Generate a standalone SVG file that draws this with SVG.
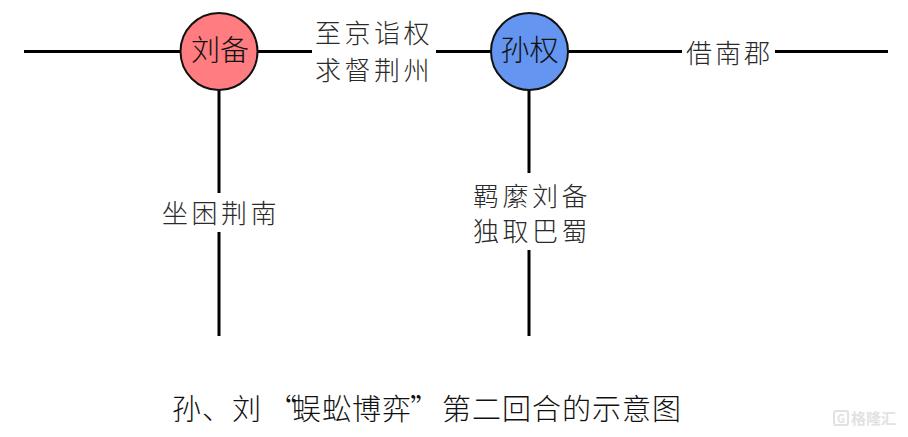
<svg xmlns="http://www.w3.org/2000/svg" width="908" height="437" viewBox="0 0 908 437">
  <style>
    .ln { stroke: #000; stroke-width: 3; fill: none; }
    .node { stroke: #111; stroke-width: 2; }
    .lbl { font-family: "Noto Sans CJK SC", "Noto Sans", sans-serif; font-size: 26px; font-weight: 300; fill: #2a2a2a; letter-spacing: 3.5px; }
    .nlbl { font-family: "Noto Sans CJK SC", "Noto Sans", sans-serif; font-size: 29px; font-weight: 300; fill: #111; text-anchor: middle; }
    .cap { font-family: "Noto Sans CJK SC", "Noto Sans", serif; font-size: 29px; font-weight: 300; fill: #111; }
    .wm { font-family: "Noto Sans CJK SC", sans-serif; font-size: 15px; font-weight: 700; fill: #e2e2e2; }
  </style>
  <rect width="908" height="437" fill="#fff"/>
  <g id="connectors">
    <path class="ln" d="M24 51.5 H312"/>
    <path class="ln" d="M436 51.5 H682"/>
    <path class="ln" d="M775 51.5 H888"/>
    <path class="ln" d="M219 90 V193"/>
    <path class="ln" d="M219 232 V336"/>
    <path class="ln" d="M529 90 V173"/>
    <path class="ln" d="M529 250 V336"/>
  </g>
  <g id="label-top">
    <text class="lbl" x="315" y="43">至京诣权</text>
    <text class="lbl" x="315" y="80">求督荆州</text>
  </g>
  <g id="label-right">
    <text class="lbl" x="686" y="63" style="letter-spacing:3px">借南郡</text>
  </g>
  <g id="label-left-down">
    <text class="lbl" x="162" y="223">坐困荆南</text>
  </g>
  <g id="label-right-down">
    <text class="lbl" x="473" y="206">羁縻刘备</text>
    <text class="lbl" x="473" y="241">独取巴蜀</text>
  </g>
  <g id="node-liubei">
    <circle class="node" cx="219" cy="51.5" r="38.5" fill="#FF7C80"/>
    <text class="nlbl" x="220" y="61">刘备</text>
  </g>
  <g id="node-sunquan">
    <circle class="node" cx="529.5" cy="51.5" r="38.5" fill="#6495F0"/>
    <text class="nlbl" x="529.5" y="61">孙权</text>
  </g>
  <g id="caption">
    <text class="cap" x="172 202 232 268 292 322 352 382 410 442 472 502 532 562 592 622 652" y="420">孙、刘“蜈蚣博弈”第二回合的示意图</text>
  </g>
  <g id="watermark">
    <rect x="834" y="411" width="14" height="14" rx="2" fill="none" stroke="#e2e2e2" stroke-width="2"/>
    <text class="wm" x="837" y="423" style="font-size:11px">G</text>
    <text class="wm" x="851" y="424">格隆汇</text>
  </g>
</svg>
